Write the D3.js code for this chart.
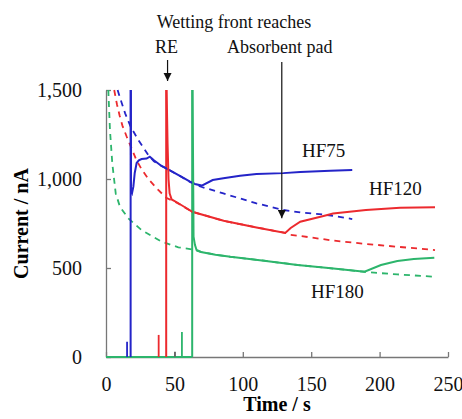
<!DOCTYPE html>
<html>
<head>
<meta charset="utf-8">
<script src="https://cdn.jsdelivr.net/npm/d3@7"></script>
<style>
  body { margin: 0; background: #fff; }
  svg { display: block; }
</style>
</head>
<body>
<svg id="chart"></svg>
<script>
// --- data: [time (s), current (nA)] ---
var xTicks = [0, 50, 100, 150, 200, 250]
var yTicks = [0, 500, 1000, 1500]

var seriesNames = ["HF75", "HF120", "HF180"]
var seriesColors = ["#2424c8", "#ec2a2e", "#2db56c"]

// time at which each wetting front reaches the RE (tall vertical line)
var wetTimes = [18, 44, 63]

// small early spikes [time, current, colour index or gray]
var smallSpikes = [[15.4, 86, 0], [38.5, 124, 1], [50.4, 30, -1], [55.5, 140, 2]]

var hf75Dashed = [[8.5, 1500], [10, 1462], [14, 1369], [18, 1294], [23.6, 1219], [30.9, 1135],
  [35, 1100], [40.6, 1073], [44, 1060], [55, 1013], [61.4, 983], [65, 970], [70, 955],
  [85.8, 919], [110, 863], [129.6, 826], [142, 812], [159, 800], [166, 793], [180, 775]]
var hf75Solid = [[18.2, 1500], [18.3, 930], [19, 920], [20, 957], [21, 1034], [22.4, 1090],
  [24, 1105], [26, 1112], [29.7, 1115], [32, 1125], [35, 1105], [40.6, 1073], [44, 1060],
  [55, 1013], [61.4, 985], [65, 972], [70, 963], [78, 994], [85.8, 1004], [98, 1018],
  [110, 1028], [129.6, 1033], [142, 1040], [164, 1047], [180, 1051]]

var hf120Dashed = [[6, 1500], [8, 1420], [10, 1355], [12, 1300], [15, 1240], [18, 1185],
  [22, 1110], [26, 1055], [31, 1000], [38, 940], [44, 895], [48, 880], [52, 866],
  [63, 816], [86, 765], [110, 728], [131, 697], [134.5, 686], [142, 680], [166, 654],
  [190.5, 635], [215, 618], [240.5, 601]]
var hf120Solid = [[44.3, 1500], [45, 1200], [45.7, 1000], [46.5, 920], [48, 885], [52, 868],
  [61, 826], [63, 816], [86, 765], [110, 728], [131, 697], [135, 725], [142, 760],
  [159, 792], [166, 806], [190, 826], [215, 839], [240.5, 841]]

var hf180Dashed = [[1.7, 1500], [2.9, 1275], [4.6, 1088], [7.1, 919], [10.2, 844], [16.3, 779],
  [26, 713], [40.7, 648], [52.9, 616], [62.6, 605], [69.4, 590], [80, 575], [91, 563],
  [115.5, 541], [140, 517], [164.5, 498], [189, 479], [196, 474], [213, 464], [240, 451]]
var hf180Solid = [[63.3, 1500], [64, 676], [65, 630], [66.2, 601], [69.4, 590], [80, 575],
  [91, 563], [115.5, 541], [140, 517], [164.5, 498], [189, 479], [201, 517], [213, 539],
  [225, 551], [240, 558]]

var dashedSets = [hf75Dashed, hf120Dashed, hf180Dashed]
var solidSets = [hf75Solid, hf120Solid, hf180Solid]

var dimensions = {
  width: 462,
  height: 419,
  margin: { top: 90, bottom: 62, right: 14, left: 106 }
}

var svg = d3.select("#chart")
  .attr("width", dimensions.width)
  .attr("height", dimensions.height)

var xScale = d3.scaleLinear()
  .domain([0, 250])
  .range([dimensions.margin.left, dimensions.width - dimensions.margin.right])

var yScale = d3.scaleLinear()
  .domain([0, 1500])
  .range([dimensions.height - dimensions.margin.bottom, dimensions.margin.top])

var line = d3.line()
  .x(d => xScale(d[0]))
  .y(d => yScale(d[1]))

var serif = "Liberation Serif, DejaVu Serif, Times New Roman, Times, serif"

// axes (ticks pointing inwards)
var xAxis = svg.append("g")
  .attr("transform", `translate(0,${yScale(0)})`)
  .call(d3.axisBottom(xScale).tickValues(xTicks).tickSizeInner(-5).tickSizeOuter(0).tickPadding(20))
var yAxis = svg.append("g")
  .attr("transform", `translate(${xScale(0)},0)`)
  .call(d3.axisLeft(yScale).tickValues(yTicks).tickSizeInner(-5).tickSizeOuter(0).tickPadding(24)
    .tickFormat(d3.format(",")))

svg.selectAll(".domain, .tick line").attr("stroke", "#777").attr("stroke-width", 1.3)
svg.selectAll(".tick text")
  .attr("font-family", serif)
  .attr("font-size", 20)
  .attr("fill", "#111")

// dashed curves
svg.append("g")
  .selectAll("path")
  .data(dashedSets)
  .enter()
  .append("path")
  .attr("d", line)
  .attr("fill", "none")
  .attr("stroke", (d, i) => seriesColors[i])
  .attr("stroke-width", 1.8)
  .attr("stroke-dasharray", "6,5")

// current stays at zero until the wetting front arrives
svg.append("path")
  .attr("d", line([[0, 0], [wetTimes[2], 0]]))
  .attr("stroke", seriesColors[2])
  .attr("stroke-width", 2)

// small spikes
svg.append("g")
  .selectAll("line")
  .data(smallSpikes)
  .enter()
  .append("line")
  .attr("x1", d => xScale(d[0]))
  .attr("x2", d => xScale(d[0]))
  .attr("y1", yScale(0))
  .attr("y2", d => yScale(d[1]))
  .attr("stroke", d => d[2] < 0 ? "#666" : seriesColors[d[2]])
  .attr("stroke-width", 1.8)

// tall spikes when the wetting front reaches the RE
svg.append("g")
  .selectAll("line")
  .data(wetTimes)
  .enter()
  .append("line")
  .attr("x1", d => xScale(d))
  .attr("x2", d => xScale(d))
  .attr("y1", yScale(0))
  .attr("y2", yScale(1500))
  .attr("stroke", (d, i) => seriesColors[i])
  .attr("stroke-width", 2)

// solid curves
svg.append("g")
  .selectAll("path")
  .data(solidSets)
  .enter()
  .append("path")
  .attr("d", line)
  .attr("fill", "none")
  .attr("stroke", (d, i) => seriesColors[i])
  .attr("stroke-width", 2)

// arrows
var defs = svg.append("defs")
defs.append("marker")
  .attr("id", "head")
  .attr("viewBox", "0 0 10 10")
  .attr("refX", 10).attr("refY", 5)
  .attr("markerWidth", 7).attr("markerHeight", 7)
  .attr("orient", "auto")
  .append("path")
  .attr("d", "M0,0L10,5L0,10Z")
  .attr("fill", "#111")

svg.append("line")
  .attr("x1", xScale(45)).attr("x2", xScale(45))
  .attr("y1", 60).attr("y2", 81)
  .attr("stroke", "#111").attr("stroke-width", 1.2)
  .attr("marker-end", "url(#head)")

svg.append("line")
  .attr("x1", xScale(128.5)).attr("x2", xScale(128.5))
  .attr("y1", 62).attr("y2", yScale(780))
  .attr("stroke", "#111").attr("stroke-width", 1.2)
  .attr("marker-end", "url(#head)")

// annotation texts
var notes = svg.append("g")
  .attr("font-family", serif)
  .attr("font-size", 18)
  .attr("fill", "#111")
notes.append("text").attr("x", 234).attr("y", 28).attr("text-anchor", "middle").text("Wetting front reaches")
notes.append("text").attr("x", 155).attr("y", 53).text("RE")
notes.append("text").attr("x", 227).attr("y", 53).text("Absorbent pad")

var labelPos = [[302, 157], [369, 195], [311, 298]]
svg.append("g")
  .selectAll("text")
  .data(seriesNames)
  .enter()
  .append("text")
  .attr("x", (d, i) => labelPos[i][0])
  .attr("y", (d, i) => labelPos[i][1])
  .attr("font-family", serif)
  .attr("font-size", 19)
  .attr("fill", "#111")
  .text(d => d)

// axis titles
svg.append("text")
  .attr("x", (xScale(0) + xScale(250)) / 2)
  .attr("y", 411)
  .attr("text-anchor", "middle")
  .attr("font-family", serif)
  .attr("font-size", 20)
  .attr("font-weight", "bold")
  .text("Time / s")

svg.append("text")
  .attr("transform", `translate(28,${(yScale(0) + yScale(1500)) / 2}) rotate(-90)`)
  .attr("text-anchor", "middle")
  .attr("font-family", serif)
  .attr("font-size", 20)
  .attr("font-weight", "bold")
  .text("Current / nA")
</script>
</body>
</html>
